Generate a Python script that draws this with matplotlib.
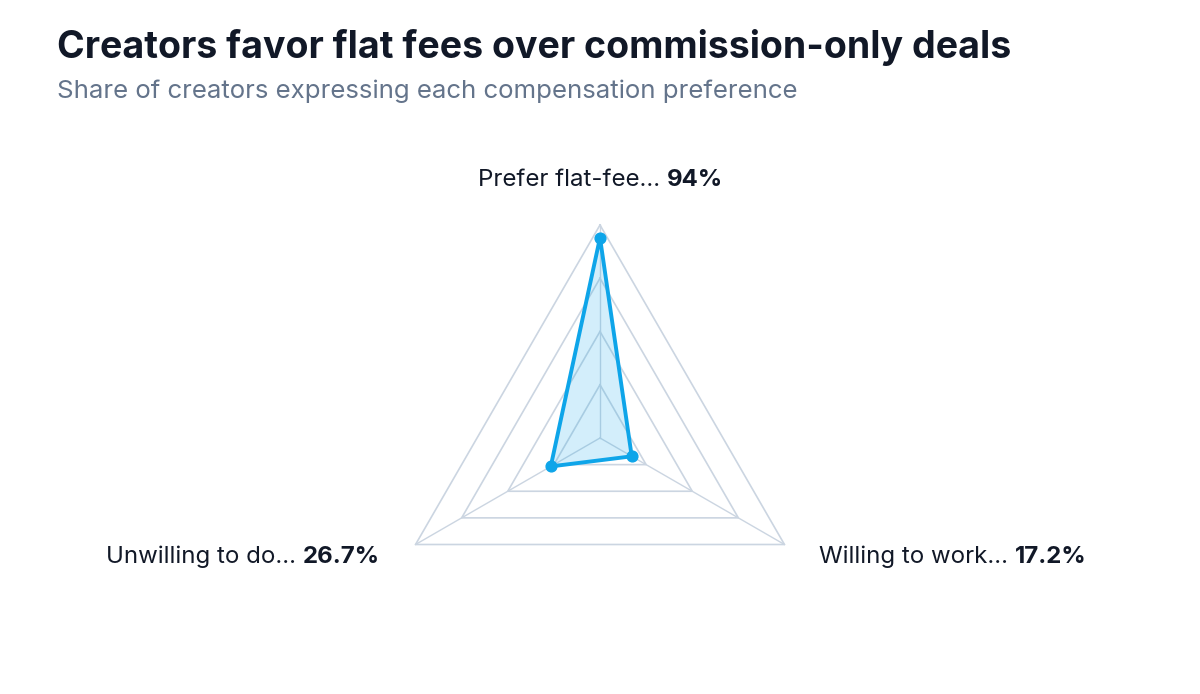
import numpy as np
import matplotlib
matplotlib.use("Agg")
import matplotlib.pyplot as plt

categories = ["Prefer flat-fee...", "Willing to work...", "Unwilling to do..."]
values = [94, 17.2, 26.7]
value_labels = ["94%", "17.2%", "26.7%"]
rings = [25, 50, 75, 100]

plt.rcParams['font.family'] = ['Inter', 'DejaVu Sans']
fig = plt.figure(figsize=(12, 6.94), dpi=100)
ax = fig.add_axes([0, 0, 1, 1])
ax.set_xlim(0, 1200); ax.set_ylim(0, 694); ax.axis('off')

cx, cy, R = 600, 256, 213
ang = np.array([90, -30, 210]) * np.pi / 180
def pt(v, a):
    return cx + R * v / 100 * np.cos(a), cy + R * v / 100 * np.sin(a)

for r in rings:
    xs, ys = zip(*[pt(r, a) for a in list(ang) + [ang[0]]])
    ax.plot(xs, ys, color='#cbd5e1', lw=1.2, zorder=1)
for a in ang:
    x, y = pt(100, a)
    ax.plot([cx, x], [cy, y], color='#cbd5e1', lw=1, zorder=1)

xs, ys = zip(*[pt(v, a) for v, a in zip(values, ang)])
ax.fill(list(xs), list(ys), color='#0ea5e9', alpha=0.18, zorder=2, lw=0)
ax.plot(list(xs) + [xs[0]], list(ys) + [ys[0]], color='#0ea5e9', lw=2.8, zorder=3)
ax.scatter(xs, ys, s=60, color='#0ea5e9', zorder=4)

fig.canvas.draw()
rend = fig.canvas.get_renderer()
lab_pos = [(600, 694 - 180, 'center'), (819, 694 - 557, 'left'), (380, 694 - 557, 'right')]
for (x, y, ha), c, vl in zip(lab_pos, categories, value_labels):
    t1 = ax.text(0, y, c + " ", fontsize=17.3, color='#111827', va='center')
    t2 = ax.text(0, y, vl, fontsize=17.3, color='#111827', va='center', fontweight='bold')
    w1 = t1.get_window_extent(rend).width
    w2 = t2.get_window_extent(rend).width
    tot = w1 + w2
    start = {'center': x - tot / 2, 'left': x, 'right': x - tot}[ha]
    t1.set_x(start); t2.set_x(start + w1)

fig.text(57 / 1200, 1 - 47 / 694, "Creators favor flat fees over commission-only deals",
         fontsize=27, fontweight='bold', color='#111827', va='center')
fig.text(57 / 1200, 1 - 91 / 694, "Share of creators expressing each compensation preference",
         fontsize=18.6, color='#64748b', va='center')
fig.savefig("out.png", dpi=100)
